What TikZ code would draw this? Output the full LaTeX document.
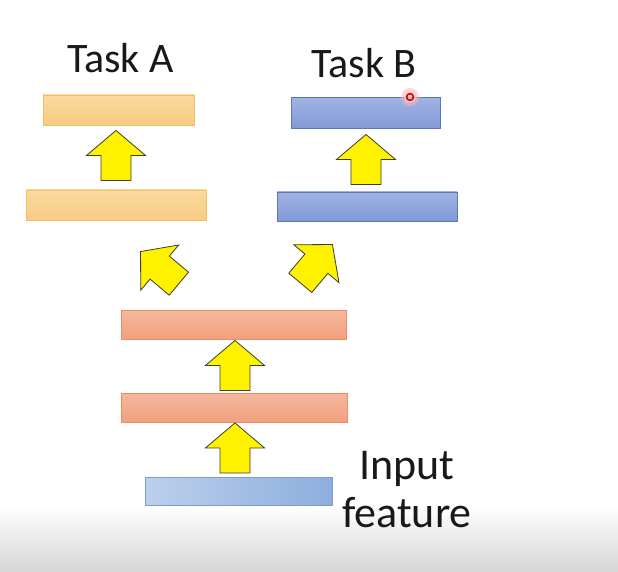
\documentclass[tikz,border=0pt]{standalone}
\usepackage{fontspec}
\setmainfont{Carlito}
\usetikzlibrary{calc}

\definecolor{goldfill1}{HTML}{FADA9E}
\definecolor{goldfill2}{HTML}{F7CC84}
\definecolor{goldline}{HTML}{F3C063}
\definecolor{bluefill1}{HTML}{A0B3E3}
\definecolor{bluefill2}{HTML}{8299D6}
\definecolor{blueline}{HTML}{5B75BF}
\definecolor{salmfill1}{HTML}{F5B89E}
\definecolor{salmfill2}{HTML}{F0A07E}
\definecolor{salmline}{HTML}{EC8C62}
\definecolor{infill1}{HTML}{BCD0EC}
\definecolor{infill2}{HTML}{8DAEDD}
\definecolor{inline}{HTML}{7B9CD2}
\definecolor{arrowline}{HTML}{3C3C28}
\definecolor{floorgray}{HTML}{D6D6D6}

\tikzset{
  layer/.style={rectangle, inner sep=0pt, line width=0.9pt},
  taskAbox/.style={layer, draw=goldline, top color=goldfill1, bottom color=goldfill2},
  taskBbox/.style={layer, draw=blueline, top color=bluefill1, bottom color=bluefill2},
  sharedbox/.style={layer, draw=salmline, top color=salmfill1, bottom color=salmfill2},
  inputbox/.style={layer, draw=inline, left color=infill1, right color=infill2},
  label/.style={inner sep=0pt, font=\fontsize{42}{48}\selectfont, text=black!90},
  biglabel/.style={label, font=\fontsize{44}{48}\selectfont},
  % block arrow with its tip at the origin, pointing up before rotation
  pics/blockarrow/.style={code={
    \begin{scope}[rotate=#1]
      \draw[fill=yellow, draw=arrowline, line width=0.8pt, line join=miter]
        (0,0) -- (29.5,25) -- (15,25) -- (15,50) -- (-15,50) -- (-15,25)
        -- (-29.5,25) -- cycle;
    \end{scope}
  }},
  pics/blockarrow/.default=0
}

\begin{document}
\begin{tikzpicture}[x=1pt, y=-1pt]
  % page and the grey floor fade at the bottom
  \fill[white] (0,0) rectangle (618,572);
  \shade[top color=white, bottom color=floorgray] (0,505) rectangle (618,572);
  \useasboundingbox (0,0) rectangle (618,572);

  % layers
  \node[taskAbox, minimum width=151, minimum height=30] (a2) at (118.5,110) {};
  \node[taskAbox, minimum width=180, minimum height=30] (a1) at (116,205) {};
  \node[taskBbox, minimum width=149, minimum height=31] (b2) at (365.5,113) {};
  \node[taskBbox, minimum width=180, minimum height=29] (b1) at (367,206.5) {};
  \node[sharedbox, minimum width=225, minimum height=29] (s2) at (233.5,324.5) {};
  \node[sharedbox, minimum width=226, minimum height=29] (s1) at (234,407.5) {};
  \node[inputbox, minimum width=187, minimum height=28] (in) at (238.5,491) {};

  % labels
  \node[label, anchor=base] (ta) at (120.5,73) {Task A};
  \node[label, anchor=base] (tb) at (364,78) {Task B};
  \node[biglabel, anchor=north, align=center] (inlab) at (407,451) {Input\\feature};

  % block arrows between layers
  \pic at ($(a2.south)+(-2.5,5)$) {blockarrow};
  \pic at ($(b2.south)+(0.5,5.5)$) {blockarrow};
  \pic at ($(s2.north west)+(20,-58)$) {blockarrow=50};
  \pic at ($(s2.north east)+(-14,-65)$) {blockarrow=-40};
  \pic at ($(s2.south)+(1.5,1)$) {blockarrow};
  \pic at ($(s1.south)+(1,0.5)$) {blockarrow};

  % pointer dot
  \coordinate (dot) at (410,97);
  \fill[red!30, opacity=0.5] (dot) circle (9);
  \fill[red!18, opacity=0.6] (dot) circle (6);
  \draw[red!85!black, line width=1.6pt] (dot) circle (3.4);
\end{tikzpicture}
\end{document}
